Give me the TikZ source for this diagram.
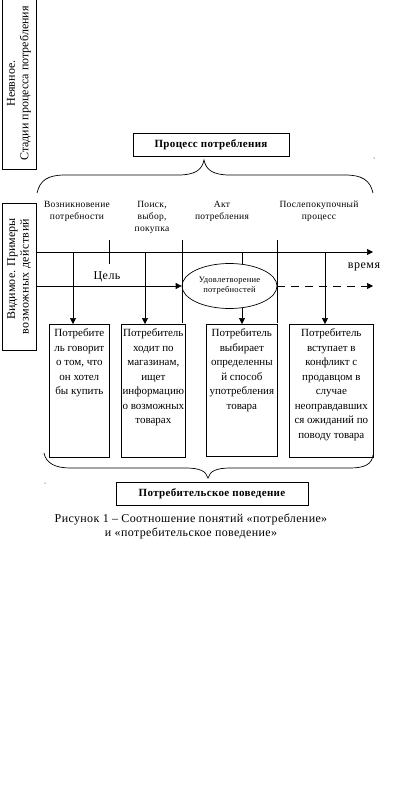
\documentclass[tikz,border=0pt]{standalone}
\usepackage{fontspec}
\setmainfont{Liberation Serif}
\usetikzlibrary{arrows.meta,shapes.geometric}
\newcommand\acttext[3]{\parbox[c][#2][t]{#1}{\centering\fontsize{11}{14.5}\selectfont\vspace*{4.5pt}#3}}
\begin{document}
\begin{tikzpicture}[x=1pt,y=-1pt, line width=0.7pt,
 arr/.style={-{Triangle[length=6pt,width=6pt]}},
 sidebox/.style={draw, rotate=90, inner sep=0pt, minimum height=34pt, font=\fontsize{12}{13.5}\selectfont},
 titlebox/.style={draw, inner sep=0pt, font=\bfseries\fontsize{11}{12}\selectfont\addfontfeature{LetterSpace=3}},
 stage/.style={align=center, font=\fontsize{9.5}{12}\selectfont\addfontfeature{LetterSpace=3}, inner sep=0pt},
 actbox/.style={draw, inner sep=0pt, anchor=north west},
]
\useasboundingbox (0,0) rectangle (410,811);

\node[sidebox, minimum width=171pt, align=center] (lA) at (19,83.5) {Неявное.\\Стадии процесса потребления};
\node[sidebox, minimum width=147pt, align=right] (lB) at (19,276.5) {Видимое. Примеры\\{\addfontfeature{LetterSpace=4}возможных действий}};

\node[titlebox, minimum width=156pt, minimum height=23pt] (proc) at (211,144.5) {Процесс потребления};

\draw (37,193) .. controls (40,180) and (48,175) .. (65,175) -- (178,175) .. controls (195,175) and (202,170) .. (204,160) .. controls (206,170) and (213,175) .. (230,175) -- (345,175) .. controls (362,175) and (370,180) .. (373,193);

\node[stage] (s1) at (77,211) {Возникновение\\потребности};
\node[stage] (s2) at (152,217) {Поиск,\\выбор,\\покупка};
\node[stage] (s3) at (222,211) {Акт\\потребления};
\node[stage] (s4) at (319,211) {Послепокупочный\\процесс};

\coordinate (t0) at (36,252);
\coordinate (t1) at (373,252);
\draw[arr] (t0) -- (t1);
\node[font=\fontsize{12}{12}\selectfont\addfontfeature{LetterSpace=4}] (vr) at (364,267) {время};

\node[draw, ellipse, minimum width=95pt, minimum height=45pt, inner sep=0pt, align=center, font=\fontsize{8.5}{10}\selectfont\addfontfeature{LetterSpace=3}] (sat) at (229.5,286) {Удовлетворение\\потребностей};
\coordinate (g0) at (36,286);
\coordinate (g1) at (373,286);
\draw[arr] (g0) -- (sat.west);
\draw[arr, dash pattern=on 8pt off 6pt] (sat.east) -- (g1);
\node[font=\fontsize{12}{12}\selectfont\addfontfeature{LetterSpace=4}] (goal) at (107,277) {Цель};

\node[actbox] (b1) at (49,324) {\acttext{60pt}{133pt}{Потребите\\ль говорит\\о том, что\\он хотел\\бы купить}};
\node[actbox] (b2) at (121,324) {\acttext{64pt}{133pt}{Потребитель\\ходит по\\магазинам,\\ищет\\информацию\\о возможных\\товарах}};
\node[actbox] (b3) at (206,324) {\acttext{71pt}{132pt}{Потребитель\\выбирает\\определенны\\й способ\\употребления\\товара}};
\node[actbox] (b4) at (289,324) {\acttext{84pt}{133pt}{Потребитель\\вступает в\\конфликт с\\продавцом в\\случае\\неоправдавших\\ся ожиданий по\\поводу товара}};

\coordinate (v1) at (73,252);
\draw[arr] (v1) -- (v1 |- b1.north);
\coordinate (k1) at (109,240);
\coordinate (k2) at (109,264);
\draw (k1) -- (k2);
\coordinate (v2) at (145,252);
\draw[arr] (v2) -- (v2 |- b2.north);
\coordinate (m1) at (182,240);
\coordinate (m2) at (182,323);
\draw (m1) -- (m2);
\coordinate (m3) at (277,240);
\coordinate (m4) at (277,323);
\draw (m3) -- (m4);
\coordinate (v3) at (242,252);
\draw (v3) -- (v3 |- sat.60);
\draw[arr] (v3 |- sat.-60) -- (v3 |- b3.north);
\coordinate (v4) at (325,252);
\draw[arr] (v4) -- (v4 |- b4.north);

\draw (44,453) .. controls (46,463) and (55,468) .. (70,468) -- (185,468) .. controls (200,468) and (206,471) .. (208,478) .. controls (210,471) and (216,468) .. (231,468) -- (350,468) .. controls (365,468) and (372,464) .. (373,455);

\node[titlebox, minimum width=192pt, minimum height=23pt] (beh) at (212,493.5) {Потребительское поведение};

\node[align=center, font=\fontsize{12}{13.5}\selectfont\addfontfeature{LetterSpace=3}] (cap) at (191,526.5) {Рисунок 1 – Соотношение понятий «потребление»\\и «потребительское поведение»};

\fill (374,158) circle (0.5pt);
\fill (45,483) circle (0.5pt);
\end{tikzpicture}
\end{document}
